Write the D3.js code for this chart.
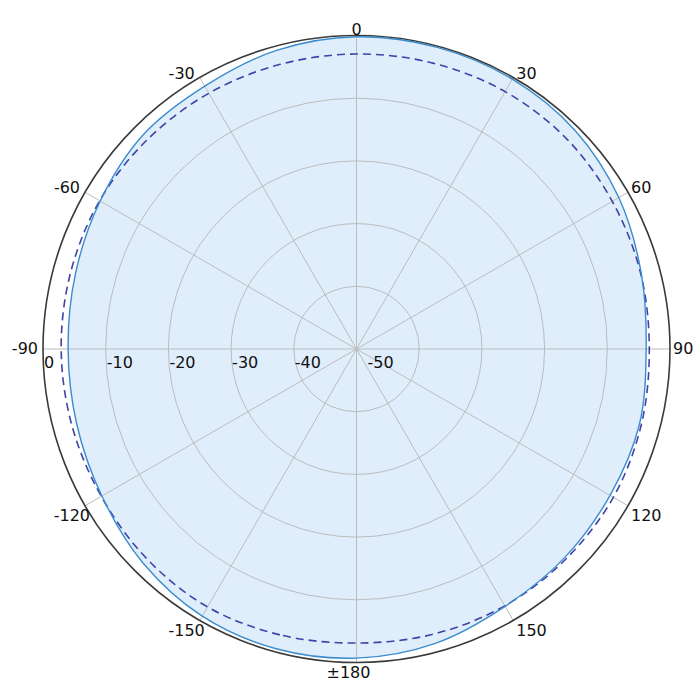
<!DOCTYPE html>
<html><head><meta charset="utf-8">
<script src="https://cdn.jsdelivr.net/npm/d3@7"></script>
<style>body{margin:0;background:#fff}svg{display:block}</style>
</head><body>
<div id="chart"></div>
<script>
// Data
const angles = [-180,-165,-150,-135,-120,-105,-90,-75,-60,-45,-30,-15,0,15,30,45,60,75,90,105,120,135,150,165];
const solidDb = [-0.7,-0.5,-0.8,-1.8,-3.1,-3.8,-4.0,-3.6,-2.8,-1.8,-1.6,-0.7,-0.2,-0.2,-0.3,-0.7,-1.7,-3.0,-3.8,-3.3,-3.3,-3.0,-2.6,-1.4];
const dashedDb = [-3.1,-2.8,-2.5,-2.7,-3.0,-3.0,-2.9,-2.8,-2.7,-2.8,-2.9,-3.0,-2.95,-2.8,-2.6,-2.6,-2.9,-3.1,-3.3,-3.0,-2.7,-2.7,-2.7,-2.9];
const spokeAngles = [0,30,60,90,120,150,180,-150,-120,-90,-60,-30];
const spokeLabels = ["0","30","60","90","120","150","±180","-150","-120","-90","-60","-30"];
const ringValues = [0,-10,-20,-30,-40,-50];
const ringLabels = ["0","-10","-20","-30","-40","-50"];

const W=700,H=700,cx=356.5,cy=349,R=313.5;
const svg=d3.select("#chart").append("svg").attr("width",W).attr("height",H);
const g=svg.append("g").attr("transform",`translate(${cx},${cy})`);
const r=d3.scaleLinear().domain([-50,0]).range([0,R]);
const a=d3.scaleLinear().domain([0,360]).range([0,2*Math.PI]);

const solid=angles.map((d,i)=>({ang:d,v:solidDb[i]}));
const dashed=angles.map((d,i)=>({ang:d,v:dashedDb[i]}));

const line=d3.lineRadial().angle(d=>a(d.ang)).radius(d=>r(d.v)).curve(d3.curveCatmullRomClosed);

// fill
g.append("path").datum(solid).attr("d",line).attr("fill","#e0eefc").attr("stroke","none");

// grid rings
g.selectAll("circle.ring").data(ringValues.slice(1,5)).enter().append("circle")
 .attr("r",d=>r(d)).attr("fill","none").attr("stroke","#bcbcbc").attr("stroke-width",1);
// spokes
g.selectAll("line.spoke").data(spokeAngles).enter().append("line")
 .attr("x1",0).attr("y1",0)
 .attr("x2",d=>R*Math.sin(a(d))).attr("y2",d=>-R*Math.cos(a(d)))
 .attr("stroke","#bcbcbc").attr("stroke-width",1);

// outer circle
g.append("circle").attr("r",r(0)).attr("fill","none").attr("stroke","#3a3a3a").attr("stroke-width",1.6);

// data lines
g.append("path").datum(dashed).attr("d",line).attr("fill","none")
 .attr("stroke","#3f43a8").attr("stroke-width",1.6).attr("stroke-dasharray","8,5");
g.append("path").datum(solid).attr("d",line).attr("fill","none")
 .attr("stroke","#3b8ccd").attr("stroke-width",1.4);

const font="DejaVu Sans";
function lx(d){const s=Math.sin(a(d)),c=-Math.cos(a(d));const x=R*s;
  if(Math.abs(s)<0.01) return c>0?x-8:x;
  if(s>0) return x+3;
  return c>0.01?x+5:x-5;}
function ly(d){const s=Math.sin(a(d)),c=-Math.cos(a(d));const y=R*c;
  if(Math.abs(s)<0.01) return c<0?y-1:y+15.5;
  if(Math.abs(c)<0.01) return y+5;
  return c<0?y+1:y+15.5;}
// angle labels
g.selectAll("text.alab").data(spokeAngles).enter().append("text")
 .attr("font-family",font).attr("font-size",16).attr("fill","#111")
 .attr("x",lx).attr("y",ly)
 .attr("text-anchor",d=>{const s=Math.sin(a(d));return Math.abs(s)<0.01?"middle":(s>0?"start":"end");})
 .text((d,i)=>spokeLabels[i]);

// ring labels
g.selectAll("text.rlab").data(ringValues).enter().append("text")
 .attr("font-family",font).attr("font-size",16).attr("fill","#111")
 .attr("x",d=>d===-50?11:-r(d)+1).attr("y",19)
 .text((d,i)=>ringLabels[i]);
</script>
</body></html>
